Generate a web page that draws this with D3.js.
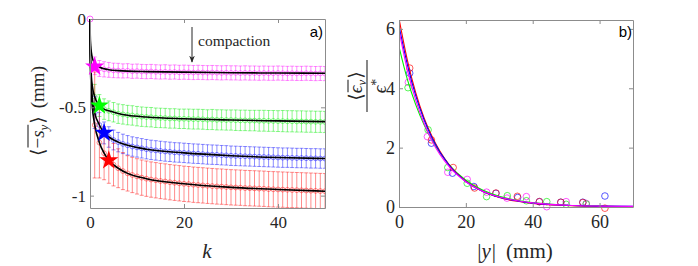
<!DOCTYPE html>
<html>
<head>
<meta charset="utf-8">
<script src="https://cdn.jsdelivr.net/npm/d3@7"></script>
<style>
  body { margin: 0; background: #fff; }
  svg { display: block; }
</style>
</head>
<body>
<script>
// ---- panel a : settlement vs cycle k ----
const kValues = d3.range(1, 51);
const seriesColors = ['#ff00ff', '#00ee00', '#0000ff', '#ff0000'];
const starColors = ['#ff00ff', '#00ff00', '#0000ff', '#ff0000'];

const magentaMean = [-0.265,-0.28,-0.285,-0.288,-0.291,-0.292,-0.294,-0.293,-0.296,-0.295,
  -0.297,-0.298,-0.297,-0.299,-0.3,-0.299,-0.301,-0.3,-0.302,-0.301,
  -0.302,-0.303,-0.302,-0.303,-0.304,-0.303,-0.304,-0.305,-0.304,-0.305,
  -0.305,-0.306,-0.305,-0.306,-0.306,-0.307,-0.306,-0.307,-0.307,-0.306,
  -0.307,-0.308,-0.307,-0.308,-0.308,-0.307,-0.308,-0.309,-0.308,-0.309];
const greenMean = [-0.44,-0.49,-0.51,-0.52,-0.528,-0.536,-0.54,-0.544,-0.546,-0.55,
  -0.553,-0.555,-0.556,-0.559,-0.56,-0.561,-0.563,-0.563,-0.565,-0.565,
  -0.566,-0.567,-0.567,-0.568,-0.57,-0.569,-0.571,-0.571,-0.572,-0.572,
  -0.573,-0.574,-0.574,-0.575,-0.575,-0.576,-0.576,-0.577,-0.577,-0.578,
  -0.578,-0.579,-0.579,-0.58,-0.58,-0.581,-0.581,-0.582,-0.582,-0.583];
const blueMean = [-0.53,-0.6,-0.645,-0.668,-0.685,-0.697,-0.707,-0.715,-0.722,-0.727,
  -0.732,-0.737,-0.741,-0.744,-0.747,-0.75,-0.752,-0.755,-0.756,-0.758,
  -0.76,-0.762,-0.763,-0.765,-0.767,-0.768,-0.769,-0.771,-0.772,-0.774,
  -0.775,-0.776,-0.777,-0.778,-0.779,-0.78,-0.781,-0.782,-0.783,-0.784,
  -0.785,-0.785,-0.786,-0.787,-0.787,-0.788,-0.789,-0.789,-0.79,-0.79];
const redMean = [-0.6,-0.7,-0.76,-0.8,-0.825,-0.845,-0.861,-0.874,-0.883,-0.891,
  -0.898,-0.904,-0.909,-0.913,-0.917,-0.92,-0.924,-0.927,-0.93,-0.933,
  -0.935,-0.938,-0.94,-0.942,-0.944,-0.946,-0.948,-0.949,-0.951,-0.953,
  -0.954,-0.955,-0.957,-0.958,-0.959,-0.96,-0.961,-0.963,-0.964,-0.965,
  -0.966,-0.967,-0.968,-0.969,-0.97,-0.971,-0.972,-0.973,-0.974,-0.975];

const magentaErr = [0.05,0.045,0.043,0.042,0.041,0.041,0.04,0.04,0.04,0.04,
  0.04,0.04,0.04,0.04,0.04,0.04,0.04,0.04,0.04,0.04,
  0.04,0.04,0.04,0.04,0.04,0.04,0.04,0.04,0.04,0.04,
  0.04,0.04,0.04,0.04,0.04,0.04,0.04,0.04,0.04,0.04,
  0.04,0.04,0.04,0.04,0.04,0.04,0.04,0.04,0.04,0.04];
const greenErr = [0.07,0.062,0.058,0.056,0.055,0.055,0.055,0.055,0.055,0.055,
  0.055,0.055,0.055,0.055,0.055,0.055,0.055,0.055,0.055,0.055,
  0.056,0.056,0.056,0.056,0.056,0.057,0.057,0.057,0.057,0.057,
  0.058,0.058,0.058,0.058,0.058,0.059,0.059,0.059,0.059,0.059,
  0.06,0.06,0.06,0.06,0.06,0.06,0.06,0.06,0.06,0.06];
const blueErr = [0.09,0.07,0.062,0.058,0.056,0.055,0.055,0.055,0.055,0.055,
  0.055,0.055,0.055,0.055,0.055,0.055,0.055,0.055,0.055,0.055,
  0.055,0.055,0.055,0.055,0.055,0.055,0.055,0.055,0.055,0.055,
  0.055,0.055,0.055,0.055,0.055,0.055,0.055,0.055,0.055,0.055,
  0.055,0.055,0.055,0.055,0.055,0.055,0.055,0.055,0.055,0.055];
const redErr = [0.3,0.2,0.15,0.13,0.12,0.11,0.105,0.1,0.1,0.1,
  0.1,0.1,0.1,0.1,0.1,0.1,0.1,0.1,0.1,0.1,
  0.1,0.1,0.1,0.1,0.1,0.1,0.1,0.1,0.1,0.1,
  0.1,0.1,0.1,0.1,0.1,0.1,0.1,0.1,0.1,0.1,
  0.1,0.1,0.1,0.1,0.1,0.1,0.1,0.1,0.1,0.1];

// fitted curves (black)
const fitK = [0,0.05,0.15,0.3,0.5,1,2,3,4,6,8,12,20,30,40,50];
const magentaFit = [0,-0.09,-0.15,-0.19,-0.22,-0.25,-0.272,-0.282,-0.287,-0.292,-0.295,-0.298,-0.301,-0.304,-0.306,-0.307];
const greenFit = [0,-0.15,-0.25,-0.33,-0.38,-0.44,-0.49,-0.51,-0.52,-0.535,-0.545,-0.555,-0.565,-0.572,-0.577,-0.581];
const blueFit = [0,-0.17,-0.29,-0.38,-0.45,-0.53,-0.6,-0.645,-0.668,-0.697,-0.715,-0.737,-0.758,-0.774,-0.784,-0.79];
const redFit = [0,-0.19,-0.33,-0.43,-0.5,-0.6,-0.7,-0.76,-0.8,-0.845,-0.874,-0.904,-0.933,-0.953,-0.965,-0.975];

// stars
const starK = [1, 2, 3, 4];
const starV = [-0.27, -0.49, -0.645, -0.8];

const aTicksX = [0, 20, 40];
const aTicksY = [0, -0.5, -1];
const aTickLabelsY = ['0', '-0.5', '-1'];

// ---- panel b : normalised strain vs depth ----
const redPts = [[3.2,4.68],[9.7,2.26],[16.2,1.33],[22.6,0.64],[29,0.47],[35.4,0.36],[42,0.18],[48.4,0.16],[55,0.15],[61.6,-0.04]];
const bluePts = [[3.2,4.51],[9.7,2.15],[16.0,1.14],[22.4,0.69],[29,0.46],[35.5,0.32],[42,0.18],[48.4,0.16],[55,0.16],[61.6,0.37]];
const magentaPts = [[2.8,4.2],[8.5,2.37],[14.6,1.17],[20.4,0.93],[26.2,0.5],[32.3,0.3],[38.1,0.35],[44.2,0.01],[50,0.18],[56,0.12]];
const greenPts = [[2.7,4.02],[8.7,2.6],[14.6,1.33],[20.4,0.8],[26.2,0.35],[32.4,0.38],[38.1,0.21],[44.2,0.18],[50,0.09],[56,0.1]];

const fitY = [0,2.5,5,7.5,10,15,20,25,30,35,40,50,60,70];
const redCurve = [6.35,4.95,3.85,3.0,2.35,1.42,0.87,0.53,0.32,0.2,0.12,0.05,0.02,0.01];
const blueCurve = [6.1,4.8,3.75,2.94,2.3,1.4,0.86,0.53,0.33,0.21,0.13,0.06,0.03,0.02];
const magentaCurve = [5.95,4.62,3.6,2.82,2.2,1.36,0.85,0.53,0.34,0.22,0.14,0.06,0.03,0.02];
const greenCurve = [5.4,4.3,3.45,2.77,2.22,1.42,0.9,0.57,0.36,0.23,0.15,0.06,0.03,0.01];

const bTicksX = [0, 20, 40, 60];
const bTicksY = [0, 2, 4, 6];

// ---------------------------------------------------
const SERIF = '"Liberation Serif", "DejaVu Serif", serif';
const SANS = '"Liberation Sans", Arial, sans-serif';
const ink = '#262626';

const svg = d3.select('body').append('svg').attr('width', 698).attr('height', 266);
svg.append('rect').attr('width', 698).attr('height', 266).attr('fill', '#fff');

const axisColor = '#8c8c8c';

function drawBox(xs, ys, xt, yt, ytLabels, fontSize) {
  const g = svg.append('g');
  const [x0, x1] = xs.range();
  const [y0, y1] = ys.range();
  const styleAxis = sel => {
    sel.selectAll('path, line').attr('stroke', axisColor);
    sel.selectAll('text').style('font-family', SERIF)
      .style('font-size', fontSize + 'px').attr('fill', ink);
  };
  g.append('g').attr('transform', `translate(0,${y0})`)
    .call(d3.axisBottom(xs).tickValues(xt).tickSize(-4).tickSizeOuter(0).tickPadding(8).tickFormat(d3.format('d')))
    .call(styleAxis);
  g.append('g').attr('transform', `translate(0,${y1})`)
    .call(d3.axisTop(xs).tickValues(xt).tickSize(-4).tickSizeOuter(0).tickFormat(''))
    .call(styleAxis);
  g.append('g').attr('transform', `translate(${x0},0)`)
    .call(d3.axisLeft(ys).tickValues(yt).tickSize(-4).tickSizeOuter(0).tickPadding(4)
      .tickFormat((d, i) => ytLabels[i]))
    .call(styleAxis);
  g.append('g').attr('transform', `translate(${x1},0)`)
    .call(d3.axisRight(ys).tickValues(yt).tickSize(-4).tickSizeOuter(0).tickFormat(''))
    .call(styleAxis);
  g.selectAll('.domain').attr('stroke-width', 1);
  return g;
}

// rich text: pieces laid out in a row, optional overline
function rich(parent, parts, anchor) {
  const g = parent.append('g');
  let cx = 0;
  const placed = [];
  parts.forEach(p => {
    const t = g.append('text')
      .attr('x', cx).attr('y', p.dy || 0)
      .style('font-family', SERIF)
      .style('font-size', p.size + 'px')
      .style('font-style', p.it ? 'italic' : 'normal')
      .attr('fill', ink)
      .text(p.t);
    const w = t.node().getComputedTextLength();
    placed.push({ a: cx, b: cx + w, p });
    cx += w + (p.gap || 0);
  });
  const over = placed.filter(d => d.p.over);
  if (over.length) {
    g.append('line')
      .attr('x1', over[0].a + 1).attr('x2', over[over.length - 1].b)
      .attr('y1', over[0].p.overY).attr('y2', over[0].p.overY)
      .attr('stroke', ink).attr('stroke-width', 1.1);
  }
  const shift = anchor === 'middle' ? -cx / 2 : 0;
  g.selectAll('text, line').attr('transform', `translate(${shift},0)`);
  return { g, width: cx };
}

// ===== panel a =====
const xa = d3.scaleLinear().domain([0, 50]).range([90, 325]);
const ya = d3.scaleLinear().domain([-1.07, 0]).range([208, 19]);

svg.append('clipPath').attr('id', 'clipA').append('rect')
  .attr('x', 85).attr('y', 14).attr('width', 240).attr('height', 194);

const plotA = svg.append('g').attr('clip-path', 'url(#clipA)');
const meansA = [magentaMean, greenMean, blueMean, redMean];
const errsA = [magentaErr, greenErr, blueErr, redErr];
const fitsA = [magentaFit, greenFit, blueFit, redFit];

meansA.forEach((m, s) => {
  const pts = kValues.map((k, i) => ({ k, v: m[i], e: errsA[s][i] }));
  const eg = plotA.append('g').attr('stroke', seriesColors[s]).attr('stroke-opacity', 0.45).attr('stroke-width', 1).attr('fill', 'none');
  pts.forEach(d => {
    const x = xa(d.k);
    eg.append('line').attr('x1', x).attr('x2', x).attr('y1', ya(d.v - d.e)).attr('y2', ya(d.v + d.e));
    eg.append('line').attr('x1', x - 2).attr('x2', x + 2).attr('y1', ya(d.v - d.e)).attr('y2', ya(d.v - d.e));
    eg.append('line').attr('x1', x - 2).attr('x2', x + 2).attr('y1', ya(d.v + d.e)).attr('y2', ya(d.v + d.e));
  });
  eg.selectAll('circle').data(pts).join('circle')
    .attr('cx', d => xa(d.k)).attr('cy', d => ya(d.v)).attr('r', 2.4);
});

// origin marker
plotA.append('circle').attr('cx', xa(0)).attr('cy', ya(0)).attr('r', 3)
  .attr('fill', 'none').attr('stroke', '#ff00ff').attr('stroke-opacity', 0.6);

const lineA = d3.line().x(d => xa(d[0])).y(d => ya(d[1])).curve(d3.curveMonotoneX);
fitsA.forEach(f => {
  plotA.append('path').datum(fitK.map((k, i) => [k, f[i]]))
    .attr('d', lineA).attr('fill', 'none').attr('stroke', '#000').attr('stroke-width', 1.6);
});

const star = d3.symbol().type(d3.symbolStar).size(115);
starK.forEach((k, i) => {
  svg.append('path').attr('d', star)
    .attr('transform', `translate(${xa(k)},${ya(starV[i])})`)
    .attr('fill', starColors[i]);
});

drawBox(xa, ya, aTicksX, aTicksY, aTickLabelsY, 17);

// compaction arrow
svg.append('defs').append('marker').attr('id', 'head')
  .attr('viewBox', '0 0 10 10').attr('refX', 9).attr('refY', 5)
  .attr('markerWidth', 7).attr('markerHeight', 8).attr('orient', 'auto')
  .append('path').attr('d', 'M0,1 L10,5 L0,9 L3,5 Z').attr('fill', ink);
svg.append('line').attr('x1', 192).attr('x2', 192).attr('y1', 27).attr('y2', 62)
  .attr('stroke', ink).attr('stroke-width', 1).attr('marker-end', 'url(#head)');
svg.append('text').attr('x', 198).attr('y', 46)
  .style('font-family', SERIF).style('font-size', '15.5px').attr('fill', ink).text('compaction');

svg.append('text').attr('x', 323).attr('y', 37).attr('text-anchor', 'end')
  .style('font-family', SANS).style('font-size', '15px').attr('fill', '#000').text('a)');

// axis labels a
rich(svg.append('g').attr('transform', 'translate(207,258)'),
  [{ t: 'k', it: true, size: 21 }], 'middle');

const yLabA = svg.append('g').attr('transform', 'translate(44,111) rotate(-90)');
rich(yLabA, [
  { t: '\u27E8', size: 19 },
  { t: '\u2212', size: 19, over: true, overY: -16 },
  { t: 's', it: true, size: 19, over: true, overY: -16 },
  { t: 'y', it: true, size: 13, dy: 4, over: true, overY: -16, gap: 1 },
  { t: '\u27E9', size: 19, gap: 8 },
  { t: '(mm)', size: 19 }
], 'middle');

// ===== panel b =====
const xb = d3.scaleLinear().domain([0, 70]).range([399, 633]);
const yb = d3.scaleLinear().domain([0, 6.3]).range([207, 20]);

svg.append('clipPath').attr('id', 'clipB').append('rect')
  .attr('x', 399).attr('y', 20).attr('width', 234).attr('height', 187);
const plotB = svg.append('g');
const ptsB = [magentaPts, greenPts, bluePts, redPts];
ptsB.forEach((pts, s) => {
  plotB.append('g').selectAll('circle').data(pts).join('circle')
    .attr('cx', d => xb(d[0])).attr('cy', d => yb(d[1])).attr('r', 3.3)
    .attr('fill', 'none').attr('stroke', seriesColors[s]).attr('stroke-opacity', 0.65);
});
const lineB = d3.line().x(d => xb(d[0])).y(d => yb(d[1])).curve(d3.curveMonotoneX);
const curvesB = [[greenCurve, 1], [redCurve, 3], [blueCurve, 2], [magentaCurve, 0]];
const curveLayer = svg.append('g').attr('clip-path', 'url(#clipB)');
curvesB.forEach(([c, s]) => {
  curveLayer.append('path').datum(fitY.map((y, i) => [y, c[i]]))
    .attr('d', lineB).attr('fill', 'none').attr('stroke', seriesColors[s]).attr('stroke-width', 1.1);
});

drawBox(xb, yb, bTicksX, bTicksY, bTicksY.map(String), 18);

svg.append('text').attr('x', 632).attr('y', 37).attr('text-anchor', 'end')
  .style('font-family', SANS).style('font-size', '15px').attr('fill', '#000').text('b)');

rich(svg.append('g').attr('transform', 'translate(515,258)'), [
  { t: '|', size: 21 },
  { t: 'y', it: true, size: 21, gap: 1 },
  { t: '|', size: 21, gap: 10 },
  { t: '(mm)', size: 21 }
], 'middle');

const yLabB = svg.append('g').attr('transform', 'translate(367,86) rotate(-90)');
rich(yLabB.append('g').attr('transform', 'translate(0,-5)'), [
  { t: '\u27E8', size: 19 },
  { t: '\u03F5', it: true, size: 19, over: true, overY: -14 },
  { t: 'v', it: true, size: 13, dy: 4, over: true, overY: -14, gap: 1 },
  { t: '\u27E9', size: 19 }
], 'middle');
yLabB.append('line').attr('x1', -26).attr('x2', 26).attr('y1', 0).attr('y2', 0)
  .attr('stroke', ink).attr('stroke-width', 1.1);
rich(yLabB.append('g').attr('transform', 'translate(0,19)'), [
  { t: '\u03F5', it: true, size: 19 },
  { t: '*', size: 14, dy: -5 }
], 'middle');
</script>
</body>
</html>
